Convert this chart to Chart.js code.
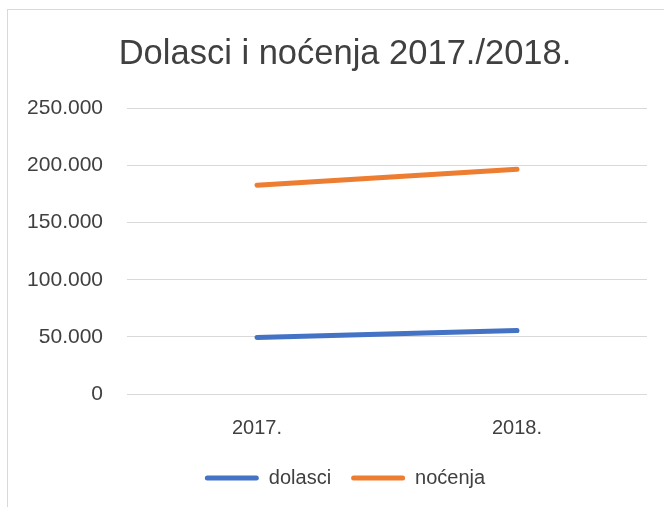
<!DOCTYPE html>
<html>
<head>
<meta charset="utf-8">
<script src="https://cdn.jsdelivr.net/npm/chart.js@4/dist/chart.umd.min.js"></script>
<style>
  html, body { margin: 0; padding: 0; background: #fff; overflow: hidden; width: 664px; height: 507px; }
  #frame { position: absolute; left: 7px; top: 9px; width: 700px; height: 520px;
           border-left: 1px solid #d9d9d9; border-top: 1px solid #d9d9d9; }
  #chart { position: absolute; left: 8px; top: 10px; }
</style>
</head>
<body>
<div id="frame"></div>
<canvas id="chart" width="674" height="497"></canvas>
<script>
const years = ['2017.', '2018.'];
const dolasci = [49500, 55600];
const nocenja = [182800, 196800];
const yTicks = [0, 50000, 100000, 150000, 200000, 250000];

const textColor = '#404040';
const fontFamily = "'Liberation Sans', Arial, sans-serif";

// 250000 -> "250.000"
const fmt = (v) => String(v).replace(/\B(?=(\d{3})+(?!\d))/g, '.');

const ctx = document.getElementById('chart').getContext('2d');
new Chart(ctx, {
  type: 'line',
  data: {
    labels: years,
    datasets: [
      {
        label: 'dolasci',
        data: dolasci,
        borderColor: '#4472C4',
        backgroundColor: '#4472C4',
        borderWidth: 5,
        borderCapStyle: 'round',
        pointRadius: 0,
        tension: 0,
      },
      {
        label: 'noćenja',
        data: nocenja,
        borderColor: '#ED7D31',
        backgroundColor: '#ED7D31',
        borderWidth: 5,
        borderCapStyle: 'round',
        pointRadius: 0,
        tension: 0,
      },
    ],
  },
  options: {
    responsive: false,
    animation: false,
    layout: { padding: { left: 0, right: 0, top: 0, bottom: 9 } },
    scales: {
      x: {
        offset: true,
        grid: { display: false },
        border: { display: false },
        ticks: { color: textColor, font: { family: fontFamily, size: 20 }, padding: 14, maxRotation: 0 },
        afterFit: (scale) => { scale.height = 54; },
      },
      y: {
        min: 0,
        max: 250000,
        afterBuildTicks: (scale) => { scale.ticks = yTicks.map((v) => ({ value: v })); },
        grid: { color: '#d9d9d9', lineWidth: 1, drawTicks: false },
        border: { display: false },
        ticks: {
          color: textColor,
          font: { family: fontFamily, size: 21 },
          padding: 24,
          callback: (v) => fmt(v),
        },
        afterFit: (scale) => { scale.width = 119; },
      },
      // empty spacer on the right so the plot stops short of the frame
      spacer: {
        type: 'linear',
        position: 'right',
        grid: { display: false },
        border: { display: false },
        ticks: { display: false },
        afterFit: (scale) => { scale.width = 35; },
      },
    },
    plugins: {
      title: {
        display: true,
        text: 'Dolasci i noćenja 2017./2018.',
        color: textColor,
        font: { family: fontFamily, size: 34.5, weight: 'normal' },
        padding: { top: 24, bottom: 33 },
      },
      legend: {
        position: 'bottom',
        labels: {
          color: textColor,
          font: { family: fontFamily, size: 20 },
          boxWidth: 54,
          boxHeight: 5,
          padding: 20,
          generateLabels: (chart) => chart.data.datasets.map((ds, i) => ({
            text: ds.label,
            fillStyle: ds.borderColor,
            strokeStyle: ds.borderColor,
            lineWidth: 0,
            borderRadius: 2.5,
            fontColor: textColor,
            datasetIndex: i,
            hidden: false,
          })),
        },
      },
      tooltip: { enabled: false },
    },
  },
});
</script>
</body>
</html>
